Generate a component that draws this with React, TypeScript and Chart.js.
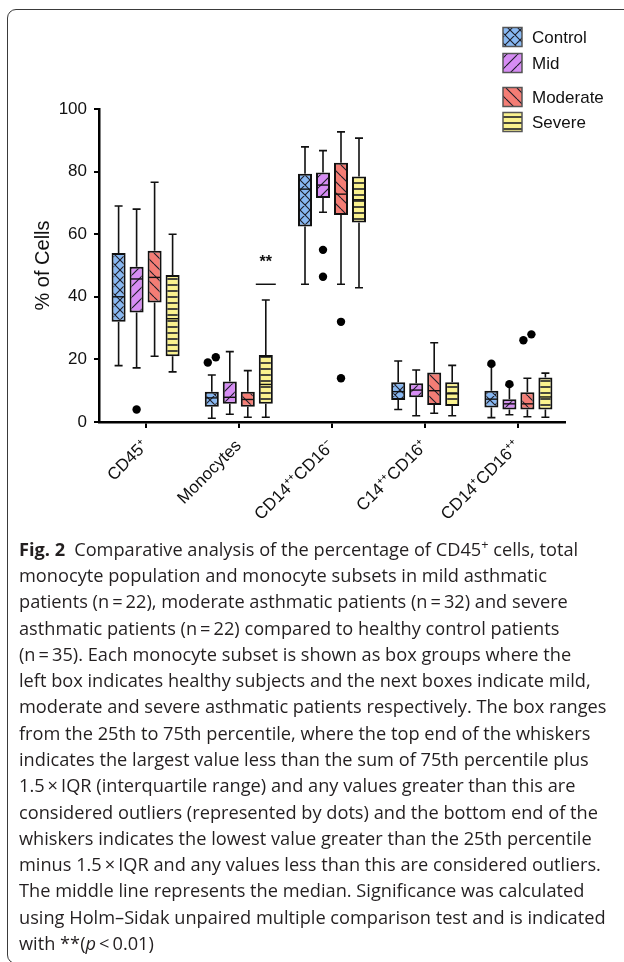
import React, { useEffect, useLayoutEffect, useRef, useState } from 'react';
import { Chart, registerables } from 'chart.js';

Chart.register(...registerables);

// ---------------- data ----------------
const CATEGORIES = ['CD45⁺', 'Monocytes', 'CD14⁺⁺CD16⁻', 'C14⁺⁺CD16⁺', 'CD14⁺CD16⁺⁺'];
const SERIES = ['Control', 'Mid', 'Moderate', 'Severe'];
const Y_TICKS = [0, 20, 40, 60, 80, 100];

// [min, q1, median, q3, max] for each category
const CONTROL_BOXES = [
  [18, 32, 40, 54, 69],
  [1.2, 4.9, 7.7, 9.7, 15],
  [44, 62.5, 74.4, 79.3, 87.9],
  [4, 7, 9.7, 12.7, 19.5],
  [1.4, 4.6, 7.3, 10, 18.2],
];
const MID_BOXES = [
  [17.3, 35, 45.7, 49.6, 68],
  [2.5, 5.8, 7.9, 12.9, 22.5],
  [67, 71.6, 75.7, 79.7, 86.7],
  [2, 7.9, 10.2, 12.4, 16.6],
  [2.3, 4, 5.8, 7.3, 11.7],
];
const MODERATE_BOXES = [
  [21, 38.2, 46.2, 54.7, 76.6],
  [1.5, 4.9, 7.2, 9.7, 16.4],
  [44, 66.1, 72.8, 82.8, 92.7],
  [2.8, 5.4, 10, 15.8, 25.3],
  [1.7, 4, 5.8, 9.5, 14],
];
const SEVERE_BOXES = [
  [16, 21, 33, 47, 60],
  [1.5, 5.8, 12, 21.4, 39],
  [42.9, 63.7, 71, 78.4, 90.7],
  [2, 5.1, 9, 12.7, 18.1],
  [1.5, 4, 8, 14.2, 15.6],
];

const CONTROL_OUTLIERS = [[], [19, 20.7], [], [], [18.6]];
const MID_OUTLIERS = [[4], [], [55, 46.4], [], [12.1]];
const MODERATE_OUTLIERS = [[], [], [32, 14], [], [26.1, 28]];
const SEVERE_OUTLIERS = [[], [], [], [], []];

// significance marker: category, series, level of the bar, label
const SIG_CATEGORY = 'Monocytes';
const SIG_SERIES = 'Severe';
const SIG_LEVEL = 44;
const SIG_LABEL = '**';

const CAPTION_LINES = [
  'Comparative analysis of the percentage of CD45',
  'monocyte population and monocyte subsets in mild asthmatic',
  'patients (n\u2009=\u200922), moderate asthmatic patients (n\u2009=\u200932) and severe',
  'asthmatic patients (n\u2009=\u200922) compared to healthy control patients',
  '(n\u2009=\u200935). Each monocyte subset is shown as box groups where the',
  'left box indicates healthy subjects and the next boxes indicate mild,',
  'moderate and severe asthmatic patients respectively. The box ranges',
  'from the 25th to 75th percentile, where the top end of the whiskers',
  'indicates the largest value less than the sum of 75th percentile plus',
  '1.5\u2009×\u2009IQR (interquartile range) and any values greater than this are',
  'considered outliers (represented by dots) and the bottom end of the',
  'whiskers indicates the lowest value greater than the 25th percentile',
  'minus 1.5\u2009×\u2009IQR and any values less than this are considered outliers.',
  'The middle line represents the median. Significance was calculated',
  'using Holm–Sidak unpaired multiple comparison test and is indicated',
  'with **(',
];

// ---------------- styles ----------------
const BOXES = [CONTROL_BOXES, MID_BOXES, MODERATE_BOXES, SEVERE_BOXES];
const OUTLIERS = [CONTROL_OUTLIERS, MID_OUTLIERS, MODERATE_OUTLIERS, SEVERE_OUTLIERS];
const FILLS = ['#88b8f2', '#d68cf3', '#f47d75', '#faf28e'];
const HATCH = ['cross', 'slash', 'backslash', 'horizontal'];
const FONT = '"Liberation Sans", Arial, Helvetica, sans-serif';
const LEGEND_ROWS = [37, 63, 97, 122];

function makePattern(kind: string, bg: string): CanvasPattern | string {
  const s = kind === 'horizontal' ? 6 : kind === 'cross' ? 10 : 11;
  const c = document.createElement('canvas');
  c.width = s;
  c.height = s;
  const g = c.getContext('2d');
  if (!g) return bg;
  g.fillStyle = bg;
  g.fillRect(0, 0, s, s);
  g.strokeStyle = '#1d1d28';
  g.lineWidth = 1.1;
  g.beginPath();
  if (kind === 'horizontal') {
    g.lineWidth = 1.6;
    g.moveTo(0, s / 2);
    g.lineTo(s, s / 2);
  }
  if (kind === 'slash' || kind === 'cross') {
    for (const k of [-s, 0, s]) {
      g.moveTo(k, s);
      g.lineTo(k + s, 0);
    }
  }
  if (kind === 'backslash' || kind === 'cross') {
    for (const k of [-s, 0, s]) {
      g.moveTo(k, 0);
      g.lineTo(k + s, s);
    }
  }
  g.stroke();
  const p = g.createPattern(c, 'repeat');
  return p || bg;
}

const boxDetailsPlugin = {
  id: 'boxDetails',
  afterDatasetsDraw(chart: any) {
    const ctx = chart.ctx;
    const y = chart.scales.y;
    ctx.save();
    ctx.strokeStyle = '#111';
    ctx.fillStyle = '#000';
    SERIES.forEach((_, di) => {
      const meta = chart.getDatasetMeta(di);
      meta.data.forEach((bar: any, ci: number) => {
        const [mn, q1, med, q3, mx] = BOXES[di][ci];
        const x = bar.x;
        const half = bar.width / 2;
        const cap = 4;
        // whiskers
        ctx.lineWidth = 1.6;
        ctx.beginPath();
        ctx.moveTo(x, y.getPixelForValue(q3));
        ctx.lineTo(x, y.getPixelForValue(mx));
        ctx.moveTo(x - cap, y.getPixelForValue(mx));
        ctx.lineTo(x + cap, y.getPixelForValue(mx));
        ctx.moveTo(x, y.getPixelForValue(q1));
        ctx.lineTo(x, y.getPixelForValue(mn));
        ctx.moveTo(x - cap, y.getPixelForValue(mn));
        ctx.lineTo(x + cap, y.getPixelForValue(mn));
        ctx.stroke();
        // median
        ctx.lineWidth = 1.4;
        ctx.beginPath();
        ctx.moveTo(x - half + 1, y.getPixelForValue(med));
        ctx.lineTo(x + half - 1, y.getPixelForValue(med));
        ctx.stroke();
        // outliers
        const outs = [...OUTLIERS[di][ci]].sort((a, b) => a - b);
        outs.forEach((v, k) => {
          let dx = 0;
          const near = outs.some((w, j) => j !== k && Math.abs(w - v) < 3);
          if (near) dx = outs.indexOf(v) === 0 ? -4 : 4;
          ctx.beginPath();
          ctx.arc(x + dx, y.getPixelForValue(v), 4.2, 0, Math.PI * 2);
          ctx.fill();
        });
      });
    });
    // significance
    const di = SERIES.indexOf(SIG_SERIES);
    const ci = CATEGORIES.indexOf(SIG_CATEGORY);
    const bar = chart.getDatasetMeta(di).data[ci];
    if (bar) {
      const py = y.getPixelForValue(SIG_LEVEL);
      ctx.lineWidth = 1.5;
      ctx.beginPath();
      ctx.moveTo(bar.x - 10, py);
      ctx.lineTo(bar.x + 10, py);
      ctx.stroke();
      ctx.font = `bold 16px ${FONT}`;
      ctx.textAlign = 'center';
      ctx.textBaseline = 'middle';
      ctx.fillStyle = '#111';
      ctx.fillText(SIG_LABEL, bar.x, py - 22);
    }
    ctx.restore();
  },
  afterDraw(chart: any) {
    const ctx = chart.ctx;
    ctx.save();
    chart.data.datasets.forEach((ds: any, i: number) => {
      const cy = LEGEND_ROWS[i];
      ctx.fillStyle = ds.backgroundColor;
      ctx.fillRect(503, cy - 9.5, 19, 19);
      ctx.strokeStyle = '#555';
      ctx.lineWidth = 1.5;
      ctx.strokeRect(503, cy - 9.5, 19, 19);
      ctx.fillStyle = '#111';
      ctx.font = `17px ${FONT}`;
      ctx.textAlign = 'left';
      ctx.textBaseline = 'middle';
      ctx.fillText(ds.label, 532, cy + 1);
    });
    ctx.restore();
  },
};

const CANVAS_W = 624;
const CANVAS_H = 540;

export default function App() {
  const ref = useRef<HTMLCanvasElement | null>(null);
  const [capSize, setCapSize] = useState(17);

  useLayoutEffect(() => {
    const c = document.createElement('canvas').getContext('2d');
    if (!c) return;
    c.font = '100px "Open Sans"';
    const w = c.measureText(CAPTION_LINES[6]).width;
    if (w > 0) setCapSize(Math.max(14, Math.min(21, (100 * 588) / w)));
  }, []);

  useEffect(() => {
    if (!ref.current) return;
    const patterns = SERIES.map((_, i) => makePattern(HATCH[i], FILLS[i]));
    const chart = new Chart(ref.current, {
      type: 'bar',
      data: {
        labels: CATEGORIES,
        datasets: SERIES.map((name, i) => ({
          label: name,
          data: BOXES[i].map((b) => [b[1], b[3]]),
          backgroundColor: patterns[i] as any,
          borderColor: '#111',
          borderWidth: 2,
          borderSkipped: false,
          categoryPercentage: 0.7725,
          barPercentage: 0.78,
        })) as any,
      },
      options: {
        responsive: false,
        animation: false,
        devicePixelRatio: 1,
        layout: { padding: { top: 109, right: 59, left: 0, bottom: 0 } },
        plugins: { legend: { display: false }, tooltip: { enabled: false } },
        scales: {
          x: {
            type: 'category',
            offset: true,
            grid: {
              display: true,
              drawOnChartArea: false,
              drawTicks: true,
              tickLength: 6,
              color: '#000',
              lineWidth: 2,
              offset: false,
            },
            border: { display: true, color: '#000', width: 2.5 },
            ticks: {
              font: { family: FONT, size: 17 },
              color: '#111',
              maxRotation: 45,
              minRotation: 45,
              padding: 8,
              autoSkip: false,
            },
            afterFit: (s: any) => {
              s.height = CANVAS_H - 422;
            },
          },
          y: {
            min: Y_TICKS[0],
            max: Y_TICKS[Y_TICKS.length - 1],
            afterBuildTicks: (axis: any) => {
              axis.ticks = Y_TICKS.map((v) => ({ value: v }));
            },
            grid: {
              drawOnChartArea: false,
              drawTicks: true,
              tickLength: 5,
              color: '#000',
              lineWidth: 2,
            },
            border: { display: true, color: '#000', width: 2.5 },
            ticks: { font: { family: FONT, size: 17 }, color: '#111', padding: 7 },
            title: {
              display: true,
              text: '% of Cells',
              font: { family: FONT, size: 20 },
              color: '#111',
              padding: { top: 31, bottom: 0 },
            },
            afterFit: (s: any) => {
              s.width = 99;
            },
          },
        },
      },
      plugins: [boxDetailsPlugin],
    });
    return () => chart.destroy();
  }, []);

  const lineH = 26.27;
  return (
    <div style={{ position: 'absolute', left: 0, top: 0, width: 624, height: 962, overflow: 'hidden', background: '#fff' }}>
      <div
        style={{
          position: 'absolute',
          left: 7,
          top: 9,
          width: 660,
          height: 955,
          border: '1.2px solid #3a3a3a',
          borderRadius: 9,
          boxSizing: 'border-box',
        }}
      />
      <canvas
        ref={ref}
        width={CANVAS_W}
        height={CANVAS_H}
        style={{ position: 'absolute', left: 0, top: 0, width: CANVAS_W, height: CANVAS_H }}
      />
      <div
        style={{
          position: 'absolute',
          left: 19,
          top: 549 - lineH / 2,
          fontFamily: '"Open Sans", "Noto Sans", sans-serif',
          fontSize: capSize,
          lineHeight: `${lineH}px`,
          color: '#231f20',
          whiteSpace: 'nowrap',
        }}
      >
        {CAPTION_LINES.map((t, i) => (
          <div key={i}>
            {i === 0 ? (
              <>
                <b style={{ marginRight: 9 }}>Fig. 2</b>
                {t}
                <sup style={{ fontSize: '0.7em', lineHeight: 0 }}>+</sup> cells, total
              </>
            ) : i === CAPTION_LINES.length - 1 ? (
              <>
                {t}
                <i>p</i>
                {'\u2009<\u20090.01)'}
              </>
            ) : (
              t
            )}
          </div>
        ))}
      </div>
    </div>
  );
}
